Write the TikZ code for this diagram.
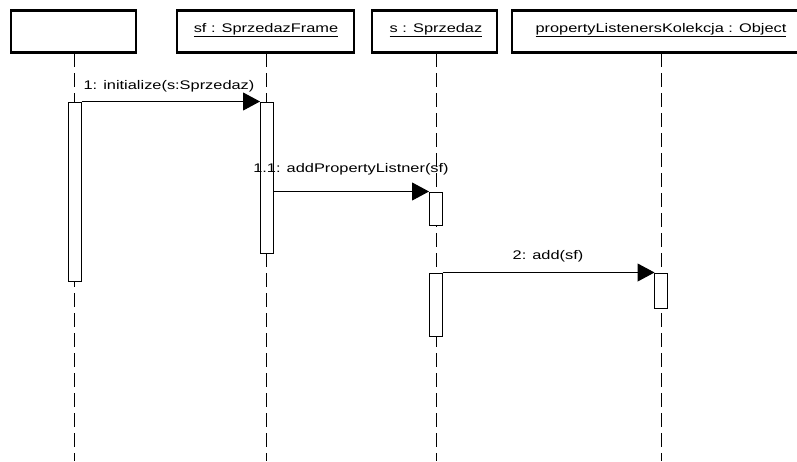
\documentclass[tikz,border=0pt]{standalone}
\usepackage{fontspec}
\setmainfont[FakeStretch=1.31]{Liberation Sans}
\usetikzlibrary{arrows.meta}
\begin{document}
\begin{tikzpicture}[x=1pt,y=-1pt,
  object/.style={draw, line width=2.2pt, minimum height=42pt, inner sep=0pt},
  lifeline/.style={line width=1pt, dash pattern=on 14pt off 6pt},
  activation/.style={draw, fill=white, line width=1pt, minimum width=13pt, inner sep=0pt},
  msg/.style={line width=1pt, -{Triangle[length=17pt,width=18pt]}, shorten >=-0.5pt},
  msglabel/.style={anchor=base, inner sep=0pt, font=\fontsize{12.5}{14}\selectfont},
  objlabel/.style={anchor=base, inner sep=0pt, font=\fontsize{12.5}{14}\selectfont}]
\useasboundingbox (0,0) rectangle (797,461);
\clip (0,0) rectangle (797,461);
\fill[white] (0,0) rectangle (797,461);

% participants
\node[object, minimum width=125pt] (p1) at (73.5,31.5) {};
\node[object, minimum width=177pt] (p2) at (265.5,31.5) {};
\node[object, minimum width=125pt] (p3) at (434.5,31.5) {};
\node[object, minimum width=298pt] (p4) at (661,31.5) {};

\node[objlabel] (t2) at (266,32) {\underline{sf : SprzedazFrame}};
\node[objlabel] (t3) at (436,32) {\underline{s : Sprzedaz}};
\node[objlabel] (t4) at (661,32) {\underline{propertyListenersKolekcja : Object}};

% lifelines
\coordinate (bottom) at (0,461);
\coordinate (l1) at (74,53);
\coordinate (l2) at (266,53);
\coordinate (l3) at (436,53);
\coordinate (l4) at (661,53);
\draw[lifeline] (l1) -- (l1 |- bottom);
\draw[lifeline] (l2) -- (l2 |- bottom);
\draw[lifeline] (l3) -- (l3 |- bottom);
\draw[lifeline] (l4) -- (l4 |- bottom);

% activations
\node[activation, minimum height=179pt] (a1) at (74.5,191.5) {};
\node[activation, minimum height=151pt] (a2) at (266.5,177.5) {};
\node[activation, minimum height=33pt] (a3) at (435.5,208.5) {};
\node[activation, minimum height=63pt] (a4) at (435.5,304.5) {};
\node[activation, minimum height=35pt] (a5) at (661,290.5) {};

% messages
\draw[msg] (a1.north east) -- (a2.north west);
\node[msglabel] (m1) at (169,89) {1: initialize(s:Sprzedaz)};

\draw[msg] (a2.east |- a3.north) -- (a3.north west);
\node[msglabel] (m2) at (351,172) {1.1: addPropertyListner(sf)};

\draw[msg] (a4.north east) -- (a5.north west);
\node[msglabel] (m3) at (548,259) {2: add(sf)};
\end{tikzpicture}
\end{document}
